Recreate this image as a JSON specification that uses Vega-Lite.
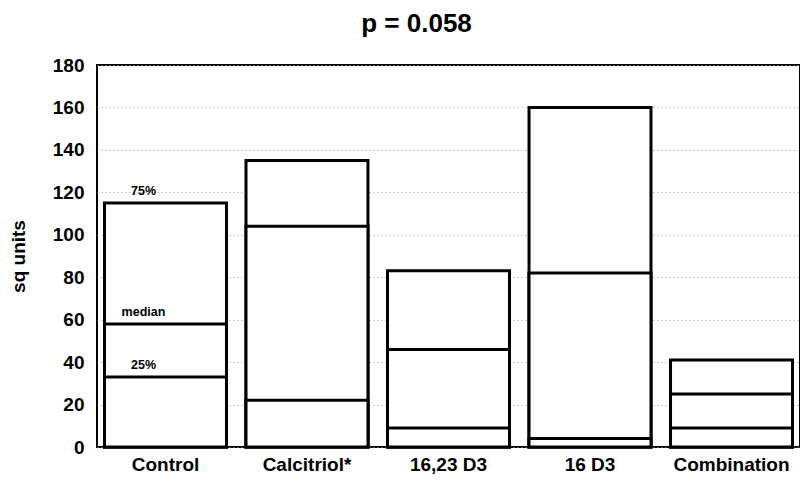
{
  "$schema": "https://vega.github.io/schema/vega-lite/v6.json",
  "width": 703,
  "height": 382,
  "autosize": {"type": "none"},
  "padding": {"left": 97, "top": 65, "right": 0, "bottom": 34},
  "background": "white",
  "title": {"text": "p = 0.058", "font": "Liberation Sans", "fontSize": 26, "fontWeight": "bold", "color": "black", "anchor": "middle", "offset": 19, "dx": -32},
  "config": {
    "view": {"stroke": "black", "strokeWidth": 2},
    "font": "Liberation Sans"
  },
  "data": {
    "values": [
      {"group": "Control", "q1": 33, "median": 58, "q3": 115},
      {"group": "Calcitriol*", "q1": 22, "median": 104, "q3": 135},
      {"group": "16,23 D3", "q1": 9, "median": 46, "q3": 83},
      {"group": "16 D3", "q1": 4, "median": 82, "q3": 160},
      {"group": "Combination", "q1": 9, "median": 25, "q3": 41}
    ]
  },
  "encoding": {
    "x": {
      "field": "group", "type": "nominal", "sort": null,
      "scale": {"paddingInner": 0.138, "paddingOuter": 0.053},
      "axis": {"title": null, "labelAngle": 0, "labelFont": "Liberation Sans", "labelFontSize": 19, "labelFontWeight": "bold", "labelColor": "black", "ticks": false, "domain": false, "labelPadding": 8}
    }
  },
  "layer": [
    {
      "mark": {"type": "bar", "fill": "white", "stroke": "black", "strokeWidth": 3},
      "encoding": {
        "y": {
          "field": "q3", "type": "quantitative",
          "scale": {"domain": [0, 180], "nice": false},
          "axis": {
            "title": "sq units", "titleFont": "Liberation Sans", "titleFontSize": 19, "titleFontWeight": "bold", "titleColor": "black", "titlePadding": 24,
            "values": [0, 20, 40, 60, 80, 100, 120, 140, 160, 180],
            "labelFont": "Liberation Sans", "labelFontSize": 19, "labelFontWeight": "bold", "labelColor": "black", "labelPadding": 13,
            "ticks": false, "domain": false,
            "grid": true, "gridColor": "#999999", "gridDash": [1, 3], "gridWidth": 1
          }
        }
      }
    },
    {
      "mark": {"type": "bar", "fill": "white", "stroke": "black", "strokeWidth": 3},
      "encoding": {"y": {"field": "median", "type": "quantitative"}}
    },
    {
      "mark": {"type": "bar", "fill": "white", "stroke": "black", "strokeWidth": 3},
      "encoding": {"y": {"field": "q1", "type": "quantitative"}}
    },
    {
      "data": {
        "values": [
          {"group": "Control", "value": 115, "label": "75%"},
          {"group": "Control", "value": 58, "label": "median"},
          {"group": "Control", "value": 33, "label": "25%"}
        ]
      },
      "mark": {"type": "text", "font": "Liberation Sans", "fontSize": 12.5, "fontWeight": "bold", "color": "black", "align": "center", "baseline": "alphabetic", "dx": -22, "dy": -8},
      "encoding": {
        "y": {"field": "value", "type": "quantitative"},
        "text": {"field": "label", "type": "nominal"}
      }
    }
  ]
}
